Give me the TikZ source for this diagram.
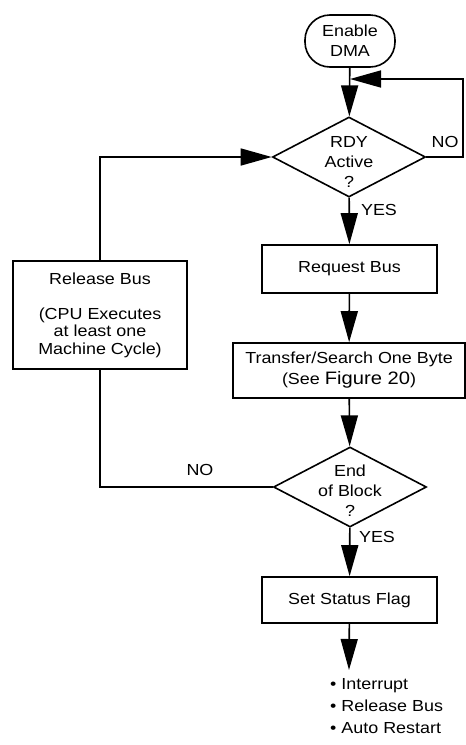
\documentclass[tikz,border=0pt]{standalone}
\usepackage{fontspec}
\setmainfont{Liberation Sans}[FakeStretch=1.12]
\usepackage{tikz}
\usetikzlibrary{shapes, arrows.meta, positioning}
\tikzstyle{txt} = [font=\fontsize{16}{20}\selectfont, align=center, inner sep=0pt]
\tikzstyle{startnode} = [draw, line width=1.6pt, rounded corners=25pt, minimum width=90pt, minimum height=52pt, txt]
\tikzstyle{block} = [draw, line width=1.6pt, rectangle, txt]
\tikzstyle{decision} = [draw, line width=1.6pt, diamond, minimum width=153pt, minimum height=80pt, inner sep=0pt]
\tikzstyle{line} = [draw, line width=1.6pt]
\tikzstyle{arrowline} = [line, -{Triangle[length=31pt, width=17pt]}]

\begin{document}
\begin{tikzpicture}[x=1pt, y=-1pt]
			\useasboundingbox (0,0) rectangle (466,745);
			% main column
			\node [startnode] (dma) at (350,41) {Enable\\DMA};
			\node [decision] (rdy) at (349,157) {};
			\node [txt] (rdyt) at (349,162) {RDY\\Active\\?};
			\node [block, minimum width=175pt, minimum height=48pt] (req) at (349.5,269) {Request Bus};
			\node [block, minimum width=232pt, minimum height=55pt] (xfer) at (349,370.5) {Transfer/Search One Byte\\[1pt](See {\fontsize{18}{20}\selectfont Figure 20})};
			\node [decision] (endb) at (350,487) {};
			\node [txt] (endbt) at (350,491) {End\\of Block\\?};
			\node [block, minimum width=175pt, minimum height=46pt] (flag) at (349.5,600) {Set Status Flag};
			\coordinate (out) at (349,670);
			\node [txt, align=left, anchor=north west, font=\fontsize{16}{22}\selectfont] (list) at (330,678) {\textbullet{} Interrupt\\\textbullet{} Release Bus\\\textbullet{} Auto Restart};
			% left column
			\node [block, minimum width=174pt, minimum height=108pt, font=\fontsize{16}{17.5}\selectfont] (rel) at (100,315) {Release Bus\\[17.5pt](CPU Executes\\at least one\\Machine Cycle)};
			\coordinate (loop) at (350,79);
			% labels
			\node [txt] (no1) at (445,142) {NO};
			\node [txt] (yes1) at (379,210) {YES};
			\node [txt] (no2) at (200,470) {NO};
			\node [txt] (yes2) at (377,537) {YES};

			\path [arrowline] (dma) -- (rdy);
			\path [arrowline] (rdy.east) -- (463,157) |- (loop);
			\path [arrowline] (rdy) -- (req);
			\path [arrowline] (req) -- (xfer);
			\path [arrowline] (xfer) -- (endb);
			\path [arrowline] (endb) -- (flag);
			\path [arrowline] (flag) -- (out);
			\path [line] (endb.west) -| (rel.south);
			\path [arrowline] (rel.north) |- (rdy.west);
		\end{tikzpicture}
\end{document}
